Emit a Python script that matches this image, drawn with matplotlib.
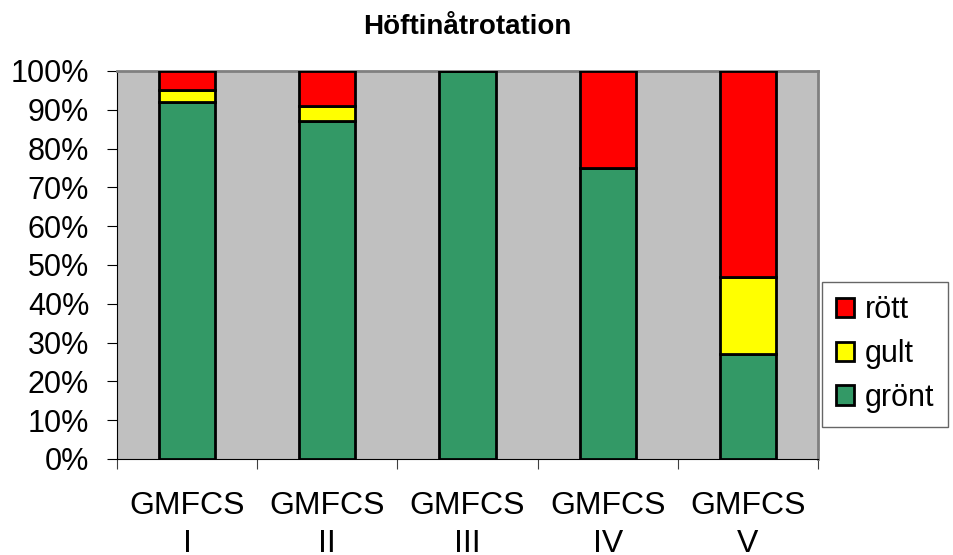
import numpy as np
import matplotlib
matplotlib.use("Agg")
import matplotlib.pyplot as plt
from matplotlib.ticker import PercentFormatter

categories = ["GMFCS\nI", "GMFCS\nII", "GMFCS\nIII", "GMFCS\nIV", "GMFCS\nV"]
gront = [92, 87, 100, 75, 27]
gult = [3, 4, 0, 0, 20]
rott = [5, 9, 0, 25, 53]

plt.rcParams['font.family'] = ['Liberation Sans', 'DejaVu Sans']

fig = plt.figure(figsize=(9.54, 5.55), dpi=100)
ax = fig.add_axes([117 / 954, 1 - 459 / 555, 701 / 954, 388 / 555])
ax.set_facecolor("#C0C0C0")

x = np.arange(len(categories))
w = 0.4
kw = dict(width=w, edgecolor="black", linewidth=2, zorder=3)
b1 = ax.bar(x, gront, color="#339966", label="grönt", **kw)
b2 = ax.bar(x, gult, bottom=gront, color="#FFFF00", label="gult", **kw)
bottom2 = np.array(gront) + np.array(gult)
b3 = ax.bar(x, rott, bottom=bottom2, color="#FF0000", label="rött", **kw)

ax.set_xlim(-0.5, len(categories) - 0.5)
ax.set_ylim(0, 100)
ax.set_yticks(np.arange(0, 101, 10))
ax.yaxis.set_major_formatter(PercentFormatter(decimals=0))
ax.tick_params(axis="y", labelsize=22, length=7, direction="out", pad=13)

# category boundaries as ticks, labels centered on minor ticks
ax.set_xticks(np.arange(-0.5, len(categories), 1))
ax.set_xticklabels([])
ax.set_xticks(x, minor=True)
ax.set_xticklabels(categories, minor=True, fontsize=23, linespacing=1.35)
ax.tick_params(axis="x", which="major", length=7, direction="out", color="#404040")
ax.tick_params(axis="x", which="minor", length=0, pad=23)

for side in ["top", "right"]:
    ax.spines[side].set_color("#808080")
    ax.spines[side].set_linewidth(2)
ax.spines["left"].set_color("black")
ax.spines["bottom"].set_color("black")

ax.set_title("Höftinåtrotation", fontsize=20, fontweight="bold", pad=27)

leg = ax.legend(handles=[b3, b2, b1], loc="center left", bbox_to_anchor=(822 / 954, 1 - 354 / 555),
                bbox_transform=fig.transFigure, fontsize=22, frameon=True, fancybox=False,
                edgecolor="#404040", handlelength=0.6, handleheight=0.6, handletextpad=0.35,
                borderpad=0.45, labelspacing=0.45, borderaxespad=0)
leg.get_frame().set_linewidth(1)

fig.savefig("out.png", dpi=100)
